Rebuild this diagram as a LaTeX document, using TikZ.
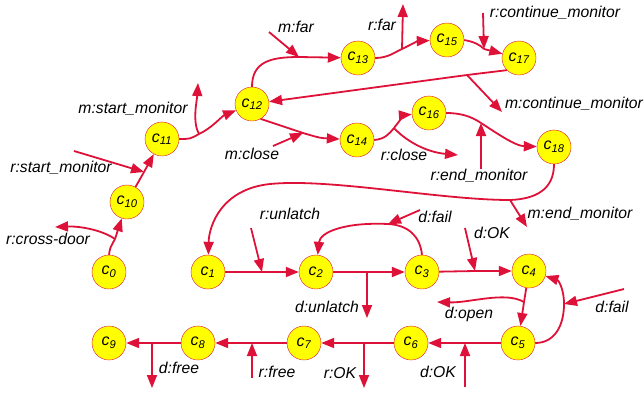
\documentclass[tikz,border=0pt]{standalone}
\usepackage{fontspec}
\setmainfont{Liberation Sans}
\usetikzlibrary{arrows.meta,positioning}
\definecolor{netred}{RGB}{222,18,56}
\definecolor{tokyellow}{RGB}{255,255,0}
\newcommand{\cpl}[1]{\textit{c\textsubscript{#1}}}

\begin{document}
\begin{tikzpicture}
  [x=1pt,y=-1pt,
   every node/.style={font=\fontsize{15.7}{18}\selectfont\itshape},
   place/.style={circle,draw=netred,fill=tokyellow,minimum size=34pt,inner sep=0pt,
     font=\fontsize{16}{16}\selectfont\itshape},
   line/.style={draw=netred,line width=1.8pt},
   arc/.style={line,-{Triangle[length=13pt,width=10pt]}}]
  \useasboundingbox (0,0) rectangle (644,397);

  % places
  \node[place] (c0) at (109,272) {\cpl{0}};
  \node[place] (c10) at (127,202) {\cpl{10}};
  \node[place] (c11) at (162,139) {\cpl{11}};
  \node[place] (c12) at (252,104) {\cpl{12}};
  \node[place] (c13) at (358,58) {\cpl{13}};
  \node[place] (c15) at (447,40) {\cpl{15}};
  \node[place] (c17) at (519,58) {\cpl{17}};
  \node[place] (c14) at (357,140) {\cpl{14}};
  \node[place] (c16) at (429,113) {\cpl{16}};
  \node[place] (c18) at (554,147) {\cpl{18}};
  \node[place] (c1) at (208,272) {\cpl{1}};
  \node[place] (c2) at (316,272) {\cpl{2}};
  \node[place] (c3) at (422,272) {\cpl{3}};
  \node[place] (c4) at (529,271) {\cpl{4}};
  \node[place] (c5) at (518,343) {\cpl{5}};
  \node[place] (c6) at (411,343) {\cpl{6}};
  \node[place] (c7) at (304,343) {\cpl{7}};
  \node[place] (c8) at (198,343) {\cpl{8}};
  \node[place] (c9) at (109,343) {\cpl{9}};

  % transitions
  \coordinate (t0) at (115,239);
  \coordinate (t1) at (144,172);
  \coordinate (t2) at (199,134);
  \coordinate (t3) at (299,57);
  \coordinate (t4) at (402,49);
  \coordinate (t5) at (484,49);
  \coordinate (t6) at (467,75);
  \coordinate (t7) at (303,133);
  \coordinate (t8) at (394,128);
  \coordinate (t9) at (481,123);
  \coordinate (t10) at (510,200);
  \coordinate (t11) at (262,272);
  \coordinate (t12) at (367,272);
  \coordinate (t13) at (388,224);
  \coordinate (t14) at (475,271);
  \coordinate (t15) at (524,302);
  \coordinate (t16) at (564,304);
  \coordinate (t17) at (465,343);
  \coordinate (t18) at (364,343);
  \coordinate (t19) at (252,343);
  \coordinate (t20) at (152,343);

  % free ends of the events
  \coordinate (o0) at (55,227);
  \coordinate (i1) at (74,151);
  \coordinate (o2) at (198,83);
  \coordinate (i3) at (269,32);
  \coordinate (o4) at (403,4);
  \coordinate (i5) at (483,13);
  \coordinate (o6) at (502,112);
  \coordinate (i7) at (273,146);
  \coordinate (o8) at (458,155);
  \coordinate (i9) at (481,169);
  \coordinate (o10) at (527,227);
  \coordinate (i11) at (251,228);
  \coordinate (o12) at (367,318);
  \coordinate (i13) at (420,210);
  \coordinate (i14) at (465,228);
  \coordinate (o15) at (437,302);
  \coordinate (i16) at (624,289);
  \coordinate (i17) at (465,387);
  \coordinate (o18) at (364,388);
  \coordinate (i19) at (252,378);
  \coordinate (o20) at (152,388);

  % event labels
  \node (lcross) at (48,239) {r:cross-door};
  \node (lrstart) at (61,168) {r:start\_monitor};
  \node (lmstart) at (133,109) {m:start\_monitor};
  \node (lmfar) at (296,27) {m:far};
  \node (lrfar) at (382,25) {r:far};
  \node (lrcont) at (555,13) {r:continue\_monitor};
  \node (lmcont) at (574,104) {m:continue\_monitor};
  \node (lmclose) at (252,154) {m:close};
  \node (lrclose) at (404,155) {r:close};
  \node (lrend) at (479,176) {r:end\_monitor};
  \node (lmend) at (580,214) {m:end\_monitor};
  \node (lrunl) at (290,214) {r:unlatch};
  \node (ldunl) at (327,307) {d:unlatch};
  \node (ldfail) at (435,217) {d:fail};
  \node (ldok) at (492,233) {d:OK};
  \node (ldopen) at (469,314) {d:open};
  \node (ldfail2) at (612,307) {d:fail};
  \node (ldok2) at (438,372) {d:OK};
  \node (lrok) at (340,373) {r:OK};
  \node (lrfree) at (277,372) {r:free};
  \node (ldfree) at (179,368) {d:free};

  % straight arcs
  \foreach \from/\to in {c10/t1,c17.south west/t6,c1/t11,c2/t12,c3/t14,c4/t15,c5/t17,c6/t18,c7/t19,c8/t20}
    \draw[line] (\from) -- (\to);
  \foreach \from/\to in {t0/c10,t1/c11,t3/c13,t5/c17,t6/c12,t11/c2,t12/c3,t14/c4,t15/c5,t17/c6,t18/c7,t19/c8,t20/c9}
    \draw[arc] (\from) -- (\to);
  \foreach \from/\to in {i1/t1,i3/t3,i5/t5,i7/t7,i9/t9,i11/t11,i13/t13,i14/t14,i16/t16,i17/t17,i19/t19,
                         t4/o4,t6/o6,t10/o10,t12/o12,t18/o18,t20/o20}
    \draw[arc] (\from) -- (\to);

  % curved arcs
  \draw[line] (c0.north) .. controls (110,248) .. (t0);
  \draw[arc] (t0) .. controls (102,230) and (80,226) .. (o0);
  \draw[line] (c11.east) .. controls (190,139) .. (t2);
  \draw[arc] (t2) .. controls (212,128) and (222,116) .. (c12);
  \draw[arc] (t2) .. controls (192,122) and (197,100) .. (o2);
  \draw[line] (c12.north) .. controls (252,62) and (270,57) .. (t3);
  \draw[line] (c13.east) .. controls (388,58) and (395,52) .. (t4);
  \draw[arc] (t4) .. controls (410,45) and (418,41) .. (c15);
  \draw[line] (c15.east) .. controls (475,42) and (480,45) .. (t5);
  \draw[line] (c12.-60) .. controls (282,126) .. (t7);
  \draw[arc] (t7) .. controls (320,138) .. (c14);
  \draw[line] (c14.east) .. controls (385,139) and (389,134) .. (t8);
  \draw[arc] (t8) .. controls (400,120) and (405,115) .. (c16);
  \draw[arc] (t8) .. controls (405,140) and (425,152) .. (o8);
  \draw[line] (c16.east) .. controls (462,113) and (472,117) .. (t9);
  \draw[arc] (t9) .. controls (495,132) and (515,146) .. (c18);
  \draw[line] (c18.south) .. controls (554,190) and (535,199) .. (t10);
  \draw[arc] (t10) .. controls (440,200) and (330,178) .. (270,184)
    .. controls (222,189) and (209,225) .. (c1);
  \draw[line] (c3.north) .. controls (420,236) and (408,225) .. (t13);
  \draw[arc] (t13) .. controls (345,222) and (320,232) .. (c2);
  \draw[arc] (t15) .. controls (505,291) and (470,303) .. (o15);
  \draw[line] (c5.east) .. controls (555,343) and (564,325) .. (t16);
  \draw[arc] (t16) .. controls (564,288) and (558,280) .. (c4);

\end{tikzpicture}
\end{document}
